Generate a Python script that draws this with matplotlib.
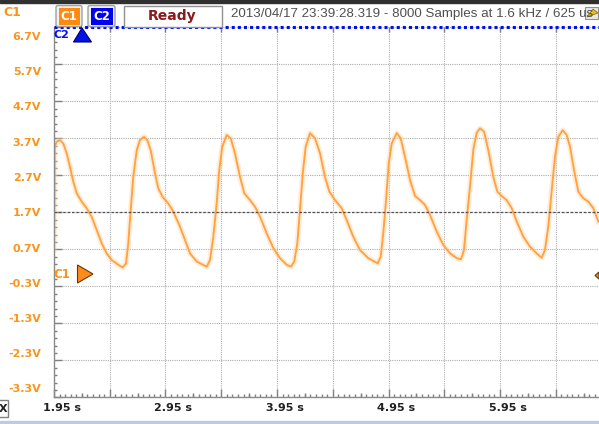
import numpy as np
import matplotlib
matplotlib.use("Agg")
import matplotlib.pyplot as plt
from matplotlib.patches import Rectangle, FancyBboxPatch, Polygon
from matplotlib.transforms import ScaledTranslation, blended_transform_factory

# C1 trace (time in s, voltage in V)
t_c1 = [1.950, 1.956, 1.974, 2.004, 2.033, 2.064, 2.093, 2.123, 2.154, 2.198,
        2.243, 2.288, 2.333, 2.378, 2.423, 2.467, 2.527, 2.566, 2.596, 2.616,
        2.638, 2.661, 2.692, 2.721, 2.757, 2.787, 2.817, 2.856, 2.885, 2.925,
        2.975, 3.020, 3.080, 3.125, 3.170, 3.230, 3.320, 3.349, 3.379, 3.409,
        3.432, 3.459, 3.499, 3.535, 3.573, 3.618, 3.657, 3.708, 3.753, 3.798,
        3.858, 3.917, 3.977, 4.037, 4.076, 4.105, 4.132, 4.156, 4.181, 4.207,
        4.246, 4.291, 4.336, 4.380, 4.419, 4.470, 4.530, 4.575, 4.634, 4.694,
        4.769, 4.853, 4.880, 4.903, 4.928, 4.952, 4.979, 5.024, 5.059, 5.098,
        5.143, 5.188, 5.232, 5.277, 5.322, 5.382, 5.441, 5.502, 5.562, 5.600,
        5.627, 5.651, 5.681, 5.711, 5.741, 5.771, 5.807, 5.845, 5.890, 5.926,
        5.965, 6.010, 6.055, 6.100, 6.159, 6.219, 6.279, 6.324, 6.353, 6.383,
        6.414, 6.443, 6.473, 6.512, 6.548, 6.578, 6.614, 6.652, 6.697, 6.742,
        6.787, 6.832]
v_c1 = [0.68, 3.47, 3.61, 3.65, 3.56, 3.29, 2.93, 2.53, 2.21, 1.99,
        1.81, 1.58, 1.22, 0.86, 0.59, 0.41, 0.28, 0.21, 0.32, 0.86,
        1.76, 2.66, 3.38, 3.65, 3.74, 3.65, 3.38, 2.75, 2.35, 2.11,
        1.94, 1.72, 1.31, 0.95, 0.59, 0.37, 0.23, 0.41, 1.04, 1.94,
        2.84, 3.47, 3.79, 3.70, 3.29, 2.66, 2.21, 2.03, 1.85, 1.58,
        1.13, 0.73, 0.46, 0.28, 0.23, 0.37, 0.86, 1.76, 2.75, 3.47,
        3.84, 3.70, 3.29, 2.66, 2.26, 2.03, 1.81, 1.49, 1.04, 0.68,
        0.46, 0.32, 0.50, 1.13, 2.03, 3.02, 3.56, 3.84, 3.70, 3.20,
        2.57, 2.14, 2.03, 1.90, 1.63, 1.18, 0.82, 0.59, 0.46, 0.43,
        0.68, 1.49, 2.40, 3.40, 3.85, 3.97, 3.88, 3.38, 2.66, 2.26,
        2.14, 2.03, 1.81, 1.45, 1.04, 0.77, 0.59, 0.47, 0.68, 1.31,
        2.30, 3.20, 3.74, 3.92, 3.79, 3.47, 2.84, 2.26, 2.08, 1.99,
        1.81, 1.45]

x_ticks = [1.95, 2.45, 2.95, 3.45, 3.95, 4.45, 4.95, 5.45, 5.95, 6.45]
x_labels = ['1.95 s', '', '2.95 s', '', '3.95 s', '', '4.95 s', '', '5.95 s', '']
y_ticks = [6.7, 5.7, 4.7, 3.7, 2.7, 1.7, 0.7, -0.3, -1.3, -2.3, -3.3]
y_labels = ['6.7V', '5.7V', '4.7V', '3.7V', '2.7V', '1.7V', '0.7V',
            '-0.3V', '-1.3V', '-2.3V', '-3.3V']
header = '2013/04/17 23:39:28.319 - 8000 Samples at 1.6 kHz / 625 us'

ORANGE = '#f7961e'
TRACE = '#ffa23f'
BLUE = '#0010e8'
W, H = 599, 424

fig = plt.figure(figsize=(W / 100, H / 100), dpi=100, facecolor='white')

# plot area (pixels 54..599 x 27..397)
ax = fig.add_axes([54 / W, (H - 397.3) / H, 545 / W, 370 / H])
ax.set_xlim(1.95, 1.95 + 545 / 111.5)
ax.set_ylim(-3.3, 6.7)

ax.plot(t_c1, v_c1, color='#ffd3a3', lw=4, alpha=0.4, solid_joinstyle='round')
ax.plot(t_c1, v_c1, color=TRACE, lw=1.35, solid_joinstyle='round')

ax.set_xticks(x_ticks)
ax.set_xticklabels(x_labels, fontsize=8, fontweight='bold', color='#202020')
ax.set_xticks(np.arange(1.95, 6.85, 0.05), minor=True)
ax.set_yticks(y_ticks)
ax.set_yticklabels([])
ax.set_yticks(np.arange(-3.3, 6.71, 0.2), minor=True)
ax.tick_params(which='both', direction='in', color='#808080', top=False, right=False)
ax.tick_params(which='major', length=6, width=1, pad=4)
ax.tick_params(which='minor', length=2, width=1)
for lbl in ax.get_xticklabels():
    lbl.set_transform(lbl.get_transform() + ScaledTranslation(8 / 100, 0, fig.dpi_scale_trans))

# medium ticks at quarter divisions along bottom, short ticks under the top line
bt = blended_transform_factory(ax.transData, ax.transAxes)
ax.vlines(np.arange(2.2, 6.85, 0.5), 0, 4 / 370, transform=bt, color='#808080', lw=1)
ax.vlines(x_ticks, 1 - 5 / 370, 1, transform=bt, color='#808080', lw=1)

ax.grid(True, which='major', color='#adadad', lw=0.8, linestyle=(0, (1, 1)))
ax.axhline(1.7, color='#505050', lw=0.9, linestyle=(0, (2, 1.5)))
ax.axhline(6.7, color=BLUE, lw=2.2, linestyle=(0, (1, 1)), clip_on=False, zorder=5)

for s in ['top', 'right']:
    ax.spines[s].set_visible(False)
for s in ['left', 'bottom']:
    ax.spines[s].set_color('#8a8a8a')
    ax.spines[s].set_linewidth(1)

# overlay in pixel coordinates for screen decorations
ov = fig.add_axes([0, 0, 1, 1], facecolor='none')
ov.set_xlim(0, W)
ov.set_ylim(H, 0)
ov.axis('off')

ov.add_patch(Rectangle((0, 0), W, 2.5, color='#303030'))
ov.text(3, 12, 'C1', color=ORANGE, fontsize=9, fontweight='bold', va='center')

# channel buttons
ov.add_patch(FancyBboxPatch((56, 5.5), 26, 21, boxstyle='round,pad=0,rounding_size=2',
                            fc='#f0f0f0', ec='#a0a0a0', lw=1))
ov.add_patch(Rectangle((58.5, 8), 21.5, 16.5, fc='#ff8a10', ec='none'))
ov.text(69.3, 16.5, 'C1', color='white', fontsize=8.5, fontweight='bold', ha='center', va='center')
ov.add_patch(FancyBboxPatch((88, 5.5), 27, 21, boxstyle='round,pad=0,rounding_size=2',
                            fc='#f0f0f0', ec='#a0a0a0', lw=1))
ov.add_patch(Rectangle((90.5, 8), 22.5, 16.5, fc='#0000ee', ec='none'))
ov.text(101.8, 16.5, 'C2', color='white', fontsize=8.5, fontweight='bold', ha='center', va='center')
ov.add_patch(Rectangle((123.5, 5.5), 98, 21, fc='white', ec='#909090', lw=1))
ov.text(172.5, 16, 'Ready', color='#8b1a1a', fontsize=10, fontweight='bold', ha='center', va='center')

ov.text(231, 14.5, header, color='#505050', fontsize=9.6, family='Liberation Sans', va='center')
ov.add_patch(Rectangle((585, 7), 13, 12, fc='#e8e8e8', ec='#909090', lw=0.8))
ov.add_patch(Polygon([[587, 17], [593, 9], [598, 13]], closed=True, fc='#e8c020', ec='#806000', lw=0.5))

# y labels
for i, lab in enumerate(y_labels):
    ov.text(41, 37 + i * 35.25, lab, color=ORANGE, fontsize=8, fontweight='bold',
            ha='right', va='center')

# channel markers
ov.text(54, 35.5, 'C2', color=BLUE, fontsize=8, fontweight='bold', va='center')
ov.add_patch(Polygon([[82, 28], [73.5, 42], [91.5, 42]], closed=True, fc=BLUE, ec='#000060', lw=0.8))
ov.text(53, 274, 'C1', color=ORANGE, fontsize=8.5, fontweight='bold', va='center')
ov.add_patch(Polygon([[77.5, 265], [77.5, 283], [93, 274]], closed=True, fc='#ff8c1a', ec='#6a3500', lw=0.8))
ov.add_patch(Polygon([[595, 275.5], [599, 272], [599, 279]], closed=True, fc='#ff8c1a', ec='#6a3500', lw=0.8))

# bottom bits
ov.add_patch(Rectangle((-2, 400), 10, 17, fc='white', ec='#808080', lw=1))
ov.text(-1, 408.5, 'X', color='#202020', fontsize=8, fontweight='bold', va='center')
ov.add_patch(Rectangle((0, 420.5), W, 4, color='#b8cde4'))

fig.savefig('out.png', dpi=100, facecolor='white')
